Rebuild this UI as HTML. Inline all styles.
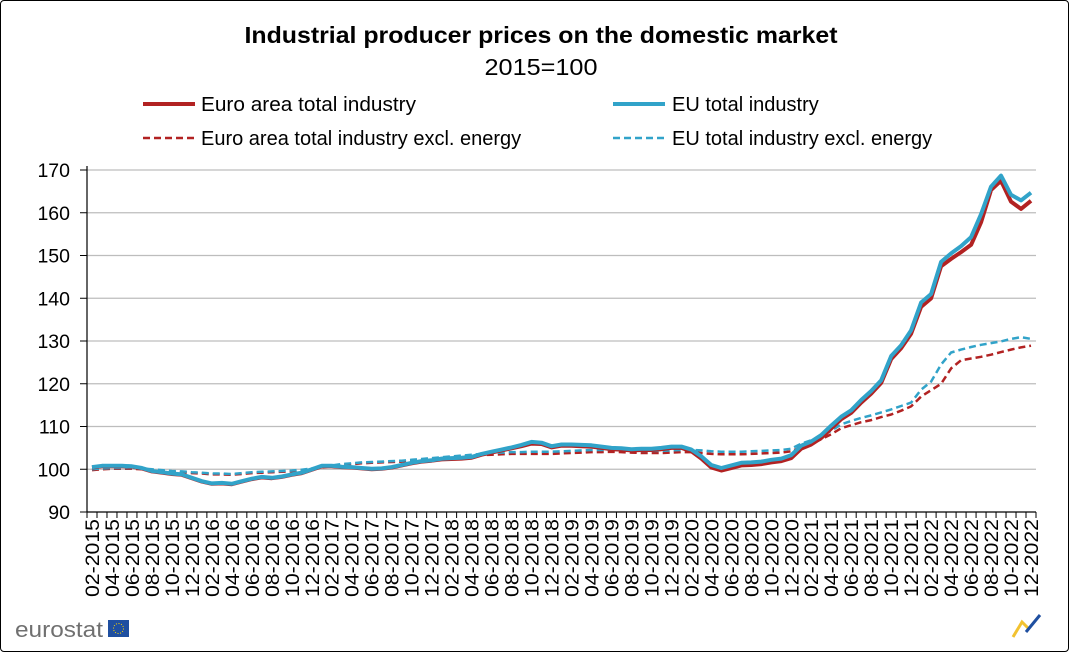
<!DOCTYPE html>
<html><head><meta charset="utf-8">
<style>
html,body{margin:0;padding:0;background:#fff;}
body{width:1069px;height:652px;overflow:hidden;font-family:"Liberation Sans",Arial,sans-serif;}
#frame{position:absolute;left:0;top:0;width:1067px;height:650px;border:1px solid #000;border-radius:4px;}
</style></head>
<body>
<div id="frame"></div>
<svg id="chart" width="1069" height="652" style="position:absolute;left:0;top:0">
  <text x="541" y="43" text-anchor="middle" font-size="23" font-weight="bold" fill="#000" textLength="593" lengthAdjust="spacingAndGlyphs">Industrial producer prices on the domestic market</text>
  <text x="541" y="75" text-anchor="middle" font-size="23" fill="#000" textLength="113" lengthAdjust="spacingAndGlyphs">2015=100</text>
  <g font-size="20">
    <g><line x1="143" y1="104" x2="195" y2="104" stroke="#b22222" stroke-width="4"/><text x="201" y="111" textLength="215" lengthAdjust="spacingAndGlyphs">Euro area total industry</text></g>
    <g><line x1="613" y1="104" x2="665" y2="104" stroke="#31a3c9" stroke-width="4"/><text x="672" y="111">EU total industry</text></g>
    <g><line x1="143" y1="138" x2="195" y2="138" stroke="#b22222" stroke-width="2.5" stroke-dasharray="7,4"/><text x="201" y="145">Euro area total industry excl. energy</text></g>
    <g><line x1="613" y1="138" x2="665" y2="138" stroke="#31a3c9" stroke-width="2.5" stroke-dasharray="7,4"/><text x="672" y="145">EU total industry excl. energy</text></g>
  </g>
  <g id="grid"></g>
  <g id="axes"></g>
  <g id="series"></g>
  <g>
    <text x="15" y="637" font-size="22" fill="#707070" textLength="88" lengthAdjust="spacingAndGlyphs">eurostat</text>
    <rect x="108" y="620" width="21" height="17" fill="#1f4fa0"/>
    <circle cx="118.5" cy="628.5" r="5" fill="none" stroke="#ffd700" stroke-width="1" stroke-dasharray="1,1.6"/>
  </g>
  <g>
    <path d="M1013,637 L1022,622 L1028,628" stroke="#f2c230" stroke-width="3" fill="none"/>
    <path d="M1026,632 L1040,615" stroke="#1f4fa0" stroke-width="3" fill="none"/>
  </g>
</svg>
<script>
const categories = [];
const years = [2015,2016,2017,2018,2019,2020,2021,2022];
for (const y of years) for (let m=1;m<=12;m++){ if(y===2015&&m===1) continue; categories.push(String(m).padStart(2,'0')+'-'+y); }
const yTicks = [90,100,110,120,130,140,150,160,170];
const euSolid = [100.5,100.8,100.8,100.8,100.7,100.3,99.6,99.3,99.0,98.8,98.0,
97.2,96.7,96.8,96.6,97.2,97.8,98.2,98.0,98.3,98.8,99.2,100.0,
100.8,100.8,100.6,100.5,100.3,100.1,100.2,100.5,101.0,101.5,101.9,102.1,
102.5,102.6,102.7,102.9,103.6,104.1,104.6,105.1,105.7,106.4,106.2,105.4,
105.8,105.8,105.7,105.6,105.3,105.0,104.9,104.7,104.8,104.8,105.0,105.3,
105.3,104.6,103.0,101.0,100.3,100.9,101.5,101.6,101.8,102.2,102.5,103.3,
105.5,106.5,108.0,110.2,112.3,113.8,116.2,118.3,120.8,126.5,129.0,132.5,
139.0,141.0,148.5,150.5,152.2,154.3,159.7,166.1,168.7,164.2,162.9,164.7];
const eaSolid = [100.4,100.7,100.7,100.7,100.6,100.2,99.5,99.2,98.9,98.7,97.9,
97.1,96.6,96.7,96.5,97.1,97.7,98.1,97.9,98.2,98.7,99.1,99.9,
100.7,100.7,100.5,100.4,100.2,100.0,100.1,100.4,100.9,101.4,101.8,102.0,
102.3,102.4,102.5,102.7,103.4,103.9,104.4,104.9,105.4,106.0,105.9,105.1,
105.5,105.5,105.4,105.3,105.0,104.7,104.6,104.4,104.5,104.5,104.7,105.0,
105.0,104.2,102.5,100.4,99.7,100.3,100.9,101.0,101.2,101.6,101.9,102.6,
104.8,105.8,107.3,109.5,111.7,113.2,115.6,117.7,120.2,125.8,128.3,131.7,
138.0,140.0,147.5,149.2,150.8,152.5,157.8,165.3,167.5,162.6,160.9,162.8];
const euExcl = [100.0,100.2,100.3,100.3,100.3,100.2,100.0,99.8,99.6,99.5,99.3,
99.2,99.0,99.0,98.9,99.1,99.3,99.4,99.5,99.6,99.7,99.9,100.2,
100.6,100.9,101.2,101.4,101.6,101.7,101.8,101.9,102.0,102.2,102.4,102.6,
102.8,103.0,103.2,103.4,103.6,103.8,103.9,104.0,104.0,104.1,104.1,104.1,
104.2,104.3,104.4,104.5,104.5,104.6,104.5,104.4,104.3,104.3,104.3,104.4,
104.5,104.5,104.4,104.2,104.1,104.1,104.1,104.2,104.3,104.4,104.5,104.8,
106.0,106.8,107.8,109.0,110.5,111.3,112.0,112.6,113.3,114.0,114.8,115.6,
118.6,120.5,124.5,127.3,128.0,128.6,129.1,129.5,129.9,130.5,130.9,130.5];
const eaExcl = [99.8,100.0,100.1,100.1,100.1,100.0,99.8,99.6,99.4,99.3,99.1,
99.0,98.8,98.8,98.7,98.9,99.1,99.2,99.3,99.4,99.5,99.7,100.0,
100.4,100.7,101.0,101.2,101.4,101.5,101.6,101.7,101.8,102.0,102.2,102.4,
102.6,102.8,103.0,103.1,103.3,103.4,103.5,103.6,103.6,103.6,103.6,103.6,
103.7,103.8,103.9,104.0,104.0,104.1,104.0,103.9,103.8,103.8,103.8,103.9,
104.0,104.0,103.8,103.6,103.5,103.5,103.5,103.6,103.7,103.8,103.9,104.2,
105.2,106.0,107.0,108.2,109.6,110.3,111.0,111.5,112.2,112.8,113.7,114.7,
117.0,118.5,120.0,123.6,125.5,125.9,126.3,126.8,127.4,128.0,128.5,128.9];

const NS='http://www.w3.org/2000/svg';
const X0=87, X1=1036, Y0=512, Y1=170, VMIN=90, VMAX=170;
const bw=(X1-X0)/categories.length;
function xScale(i){return X0+(i+0.5)*bw;}
function yScale(v){return Y0-(v-VMIN)/(VMAX-VMIN)*(Y0-Y1);}
function mk(tag,attrs,parent){const e=document.createElementNS(NS,tag);for(const k in attrs)e.setAttribute(k,attrs[k]);parent.appendChild(e);return e;}
const grid=document.getElementById('grid'), axes=document.getElementById('axes'), series=document.getElementById('series');
for(const t of yTicks){
  const y=yScale(t);
  if(t!==VMIN){const g=mk('line',{x1:X0,x2:X1,y1:y,y2:y,stroke:'#bdbdbd','stroke-width':1.2},grid);
  
  }
  mk('line',{x1:X0-7,x2:X0,y1:y,y2:y,stroke:'#000','stroke-width':1},axes);
  const lb=mk('text',{x:70,y:y+7,'text-anchor':'end','font-size':19.5,fill:'#000'},axes);
  lb.textContent=t;
  
  
}
mk('line',{x1:X0,x2:X0,y1:Y1-4,y2:Y0,stroke:'#000','stroke-width':1.2},axes);
mk('line',{x1:X0,x2:X1,y1:Y0,y2:Y0,stroke:'#000','stroke-width':1.2},axes);
for(let i=0;i<=categories.length;i++){const x=X0+i*bw;mk('line',{x1:x,x2:x,y1:Y0,y2:Y0+6,stroke:'#000','stroke-width':1},axes);}
categories.forEach((c,i)=>{
  if(i%2!==0) return;
  const x=xScale(i)+7, y=Y0+7;
  const t=mk('text',{x:x,y:y,'text-anchor':'end','font-size':19,fill:'#000',textLength:78,lengthAdjust:'spacingAndGlyphs',transform:'rotate(-90 '+x+' '+y+')'},axes);
  t.textContent=c;
  
  
});
function line(data,color,w,dash,name){
  const d=data.map((v,i)=>(i?'L':'M')+xScale(i).toFixed(1)+','+yScale(v).toFixed(1)).join(' ');
  const p=mk('path',{d:d,fill:'none',stroke:color,'stroke-width':w,'stroke-linejoin':'round'},series);
  if(dash) p.setAttribute('stroke-dasharray',dash);
  
  
}
line(eaExcl,'#b22222',2.5,'7,4','line-euro-area-excl-energy');
line(euExcl,'#31a3c9',2.5,'7,4','line-eu-excl-energy');
line(eaSolid,'#b22222',4,null,'line-euro-area-total');
line(euSolid,'#31a3c9',4,null,'line-eu-total');
</script>
</body></html>
